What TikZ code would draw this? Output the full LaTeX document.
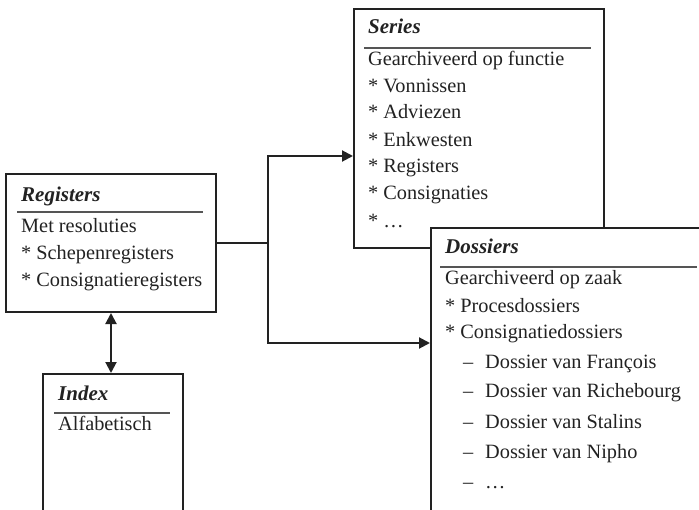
\documentclass[tikz,border=0pt]{standalone}
\usepackage{fontspec}
\setmainfont{Liberation Serif}
\usetikzlibrary{arrows.meta}
\definecolor{ink}{HTML}{222222}
\definecolor{rule}{HTML}{555555}
\tikzset{
  boxframe/.style={draw=ink, line width=2pt, fill=white, rectangle, anchor=north west, inner sep=0pt},
  divider/.style={draw=rule, line width=1.4pt},
  txt/.style={anchor=base west, inner sep=0pt, text=ink, font=\fontsize{20.3}{23}\selectfont},
  ttl/.style={txt, font=\fontsize{21}{24}\selectfont\bfseries\itshape},
  conn/.style={draw=ink, line width=2pt},
  arr/.style={conn, -{Triangle[length=11pt,width=11pt]}},
  darr/.style={conn, {Triangle[length=11pt,width=11pt]}-{Triangle[length=11pt,width=11pt]}},
}
\begin{document}
\begin{tikzpicture}[x=1pt,y=-1pt]
\useasboundingbox (0,0) rectangle (699,509);
% Series
\node[boxframe, minimum width=250pt, minimum height=239pt] (ser) at (353,8) {};
\draw[divider] (364,48) -- (591,48);
\node[ttl] (serT) at (368,33) {Series};
\node[txt] (ser1) at (368,65) {Gearchiveerd op functie};
\node[txt] (ser2) at (368,92) {* Vonnissen};
\node[txt] (ser3) at (368,118) {* Adviezen};
\node[txt] (ser4) at (368,146) {* Enkwesten};
\node[txt] (ser5) at (368,172) {* Registers};
\node[txt] (ser6) at (368,199) {* Consignaties};
\node[txt] (ser7) at (368,227) {* \ldots};
% Dossiers
\node[boxframe, minimum width=300pt, minimum height=320pt] (dos) at (430,227) {};
\draw[divider] (440,267) -- (697,267);
\node[ttl] (dosT) at (445,253) {Dossiers};
\node[txt] (dos1) at (445,284) {Gearchiveerd op zaak};
\node[txt] (dos2) at (445,312) {* Procesdossiers};
\node[txt] (dos3) at (445,338) {* Consignatiedossiers};
\node[txt] (dos4a) at (463,368) {–};
\node[txt] (dos4) at (485,368) {Dossier van François};
\node[txt] (dos5a) at (463,397) {–};
\node[txt] (dos5) at (485,397) {Dossier van Richebourg};
\node[txt] (dos6a) at (463,428) {–};
\node[txt] (dos6) at (485,428) {Dossier van Stalins};
\node[txt] (dos7a) at (463,458) {–};
\node[txt] (dos7) at (485,458) {Dossier van Nipho};
\node[txt] (dos8a) at (463,488) {–};
\node[txt] (dos8) at (485,488) {\ldots};
% Registers
\node[boxframe, minimum width=210pt, minimum height=138pt] (reg) at (5,173) {};
\draw[divider] (17,212) -- (203,212);
\node[ttl] (regT) at (21,201) {Registers};
\node[txt] (reg1) at (21,232) {Met resoluties};
\node[txt] (reg2) at (21,259) {* Schepenregisters};
\node[txt] (reg3) at (21,286) {* Consignatieregisters};
% Index
\node[boxframe, minimum width=140pt, minimum height=200pt] (idx) at (42,373) {};
\draw[divider] (54,413) -- (170,413);
\node[ttl] (idxT) at (58,400) {Index};
\node[txt] (idx1) at (58,430) {Alfabetisch};
% connectors
\coordinate (jn) at (268,243);
\coordinate (serIn) at (353,156);
\coordinate (dosIn) at (430,343);
\draw[conn] (reg.east |- jn) -- (jn);
\draw[arr] (jn) |- (serIn);
\draw[arr] (jn) |- (dosIn);
\draw[darr] (reg.south -| 111,0) -- (idx.north -| 111,0);
\end{tikzpicture}
\end{document}
